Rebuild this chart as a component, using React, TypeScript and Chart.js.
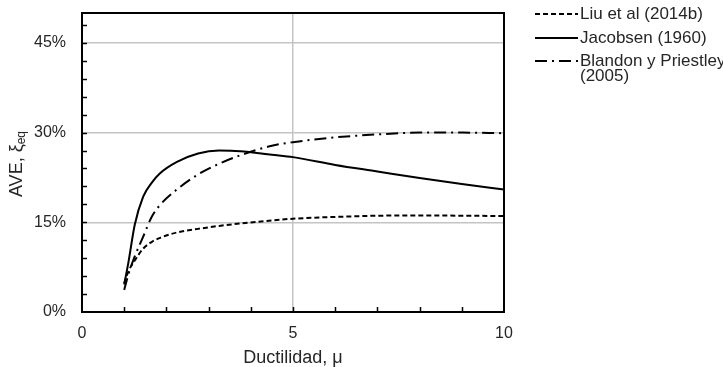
import React, { useEffect, useRef } from "react";
import { Chart, registerables } from "chart.js";

Chart.register(...registerables);

const muValues = [1, 1.1, 1.25, 1.45, 1.65, 1.85, 2.25, 2.75, 3.25, 3.75, 4.5, 5, 6, 7, 8, 9, 10];
const liuValues = [4.8, 6.8, 8.6, 10.6, 11.7, 12.4, 13.3, 13.9, 14.4, 14.8, 15.3, 15.6, 15.9, 16.1, 16.15, 16.1, 16.05];
const jacobsenValues = [4.6, 8.3, 14.6, 19.3, 21.6, 23.2, 25.1, 26.5, 27.0, 26.9, 26.3, 25.9, 24.6, 23.5, 22.4, 21.4, 20.5];
const blandonValues = [3.7, 6.3, 9.3, 12.6, 15.9, 17.9, 20.5, 23.0, 24.8, 26.2, 27.8, 28.4, 29.2, 29.7, 30.0, 30.0, 29.9];

const seriesLabels = ["Liu et al (2014b)", "Jacobsen (1960)", "Blandon y Priestley\n(2005)"];
const yTickValues = [0, 15, 30, 45];
const xTickValues = [0, 5, 10];
const xTitle = "Ductilidad, μ";
const yTitleMain = "AVE, ξ";
const yTitleSub = "eq";

const FONT = "'Liberation Sans', Arial, sans-serif";
const TEXT = "#262626";

const toPoints = (ys: number[]) => muValues.map((x, i) => ({ x, y: ys[i] }));

const decorPlugin = {
  id: "decor",
  afterDraw(chart: any) {
    const { ctx, chartArea } = chart;
    const xs = chart.scales.x;
    const ys = chart.scales.y;
    ctx.save();
    // minor ticks
    ctx.strokeStyle = "#000";
    ctx.lineWidth = 1.5;
    ctx.setLineDash([]);
    for (let v = 3; v < 50; v += 3) {
      const py = Math.round(ys.getPixelForValue(v)) + 0.5;
      ctx.beginPath();
      ctx.moveTo(chartArea.left, py);
      ctx.lineTo(chartArea.left + 5, py);
      ctx.stroke();
    }
    for (let v = 1; v < 10; v++) {
      const px = Math.round(xs.getPixelForValue(v)) + 0.5;
      ctx.beginPath();
      ctx.moveTo(px, chartArea.bottom);
      ctx.lineTo(px, chartArea.bottom - 5);
      ctx.stroke();
    }
    // frame
    ctx.lineWidth = 2;
    ctx.strokeRect(chartArea.left, chartArea.top, chartArea.right - chartArea.left, chartArea.bottom - chartArea.top);

    // axis titles
    ctx.fillStyle = TEXT;
    ctx.font = `18px ${FONT}`;
    ctx.textAlign = "center";
    ctx.textBaseline = "middle";
    ctx.fillText(xTitle, (chartArea.left + chartArea.right) / 2, 358);

    ctx.save();
    ctx.translate(17, 164);
    ctx.rotate(-Math.PI / 2);
    ctx.font = `18px ${FONT}`;
    const wMain = ctx.measureText(yTitleMain).width;
    ctx.font = `12px ${FONT}`;
    const wSub = ctx.measureText(yTitleSub).width;
    const start = -(wMain + wSub) / 2;
    ctx.textAlign = "left";
    ctx.font = `18px ${FONT}`;
    ctx.fillText(yTitleMain, start, 0);
    ctx.font = `12px ${FONT}`;
    ctx.fillText(yTitleSub, start + wMain, 5);
    ctx.restore();

    // legend
    const rows = [14, 38, 61];
    chart.data.datasets.forEach((ds: any, i: number) => {
      const y = rows[i];
      ctx.strokeStyle = "#000";
      ctx.lineWidth = 2;
      ctx.setLineDash(ds.borderDash || []);
      ctx.beginPath();
      ctx.moveTo(535, y);
      ctx.lineTo(578, y);
      ctx.stroke();
      ctx.setLineDash([]);
      ctx.fillStyle = TEXT;
      ctx.font = `17px ${FONT}`;
      ctx.textAlign = "left";
      ctx.textBaseline = "middle";
      String(ds.label).split("\n").forEach((line, j) => {
        ctx.fillText(line, 580, y + j * 15);
      });
    });
    ctx.restore();
  },
};

export default function App() {
  const ref = useRef<HTMLCanvasElement>(null);
  useEffect(() => {
    document.body.style.margin = "0";
    const canvas = ref.current!;
    const chart = new Chart(canvas, {
      type: "line",
      data: {
        datasets: [
          { label: seriesLabels[0], data: toPoints(liuValues), borderColor: "#000", borderWidth: 2, borderDash: [5, 3], pointRadius: 0, cubicInterpolationMode: "monotone", fill: false },
          { label: seriesLabels[1], data: toPoints(jacobsenValues), borderColor: "#000", borderWidth: 2, borderDash: [], pointRadius: 0, cubicInterpolationMode: "monotone", fill: false },
          { label: seriesLabels[2], data: toPoints(blandonValues), borderColor: "#000", borderWidth: 2, borderDash: [12, 5, 2, 5], pointRadius: 0, cubicInterpolationMode: "monotone", fill: false },
        ],
      },
      options: {
        animation: false,
        responsive: true,
        maintainAspectRatio: false,
        layout: { padding: { top: 13, right: 219, left: 0, bottom: 0 } },
        plugins: { legend: { display: false }, tooltip: { enabled: false } },
        scales: {
          x: {
            type: "linear",
            min: 0,
            max: 10,
            afterBuildTicks: (s: any) => { s.ticks = xTickValues.map((v) => ({ value: v })); },
            afterFit: (s: any) => { s.height = 55; s.paddingLeft = 0; s.paddingRight = 0; s.paddingTop = 0; s.paddingBottom = 0; },
            border: { display: false },
            grid: { drawTicks: false, color: (c: any) => (c.tick && c.tick.value === 5 ? "#c4c4c4" : "rgba(0,0,0,0)"), lineWidth: 1.5 },
            ticks: { padding: 12, color: TEXT, font: { size: 16, family: FONT }, maxRotation: 0 },
          },
          y: {
            type: "linear",
            min: 0,
            max: 50,
            afterBuildTicks: (s: any) => { s.ticks = yTickValues.map((v) => ({ value: v })); },
            afterFit: (s: any) => { s.width = 82; s.paddingLeft = 0; s.paddingRight = 0; s.paddingTop = 0; s.paddingBottom = 0; },
            border: { display: false },
            grid: { drawTicks: false, color: (c: any) => (c.tick && c.tick.value > 0 ? "#c4c4c4" : "rgba(0,0,0,0)"), lineWidth: 1.5 },
            ticks: { padding: 16, color: TEXT, font: { size: 16, family: FONT }, callback: (v: any) => `${v}%` },
          },
        },
      },
      plugins: [decorPlugin],
    } as any);
    return () => chart.destroy();
  }, []);
  return (
    <div style={{ width: 723, height: 367, position: "relative" }}>
      <canvas ref={ref} />
    </div>
  );
}
